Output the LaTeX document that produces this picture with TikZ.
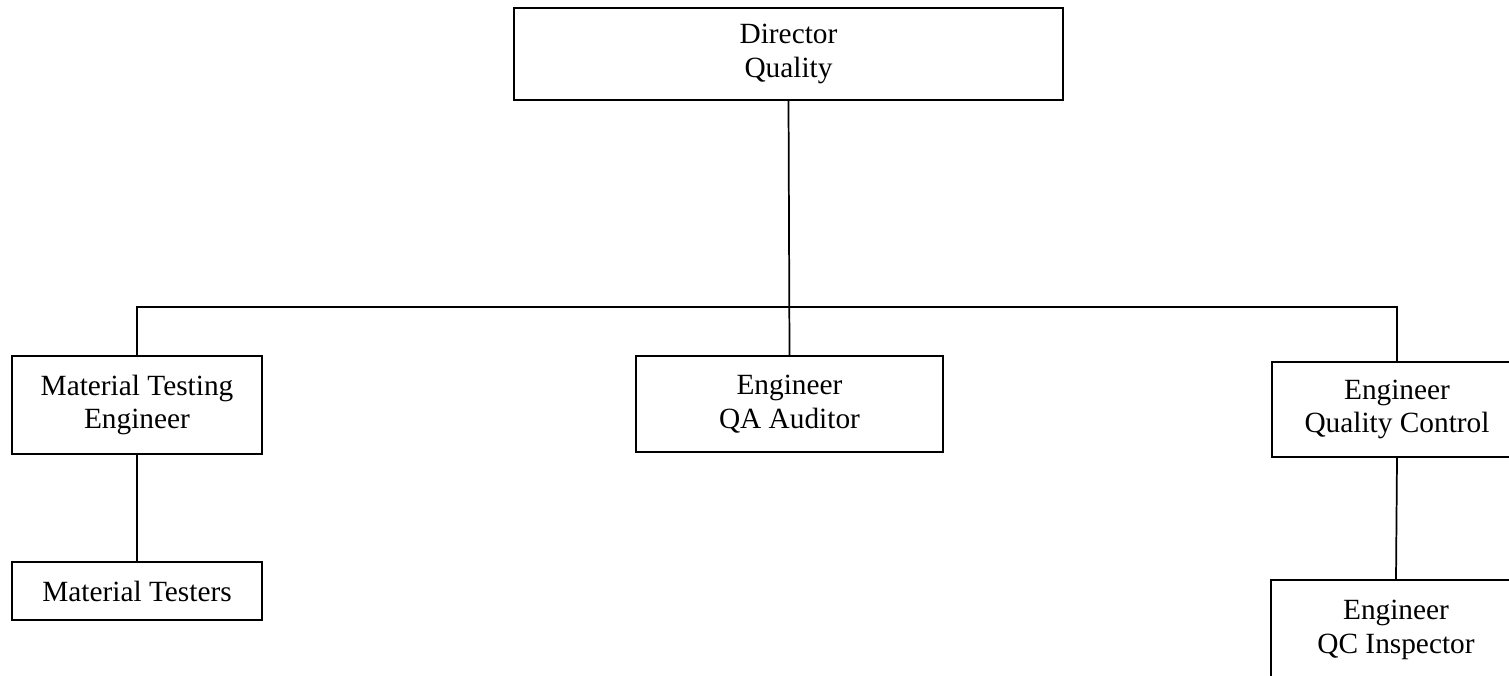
\documentclass[tikz,border=0pt]{standalone}
\usepackage{fontspec}
\setmainfont{Liberation Serif}
\begin{document}
\begin{tikzpicture}[x=0.75pt,y=-0.75pt,
  box/.style={draw=black,line width=1.3pt,fill=white,inner sep=0pt,align=center,
    font=\fontsize{22}{25}\selectfont},
  link/.style={draw=black,line width=1.3pt}]
\useasboundingbox (0,0) rectangle (1509,675);
\clip (0,0) rectangle (1509,675);
\node[box,minimum width=549*0.75pt,minimum height=92*0.75pt] (dir) at (788.5,54) {Director\\Quality};
\node[box,minimum width=250*0.75pt,minimum height=98*0.75pt] (mte) at (137,405) {Material Testing\\Engineer};
\node[box,minimum width=307*0.75pt,minimum height=96*0.75pt] (qa) at (789.5,404) {Engineer\\QA Auditor};
\node[box,minimum width=250*0.75pt,minimum height=95*0.75pt] (qcc) at (1397,409.5) {Engineer\\Quality Control};
\node[box,minimum width=250*0.75pt,minimum height=58*0.75pt] (mts) at (137,591) {Material Testers};
\node[box,minimum width=250*0.75pt,minimum height=100*0.75pt] (qci) at (1396,630) {Engineer\\QC Inspector};
\coordinate (bus) at (788,307);
\draw[link] (dir.south) -- (qa.north);
\draw[link] (mte.north) |- (bus) -| (qcc.north);
\draw[link] (mte.south) -- (mts.north);
\draw[link] (qcc.south) -- (qci.north);
\end{tikzpicture}
\end{document}
